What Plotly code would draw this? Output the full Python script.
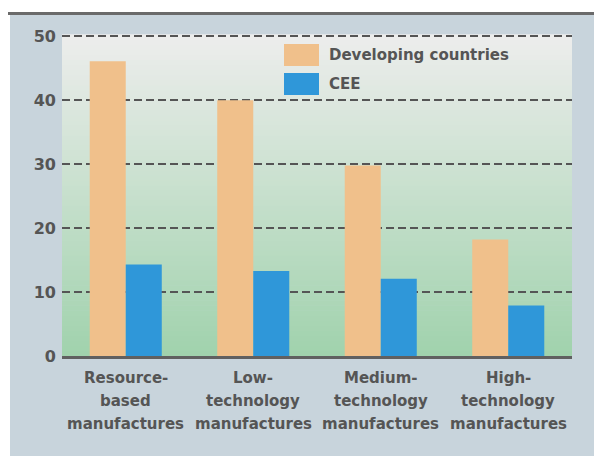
import plotly.graph_objects as go

# Share of exports by technology category (%)
categories = [
    "Resource-based manufactures",
    "Low-technology manufactures",
    "Medium-technology manufactures",
    "High-technology manufactures",
]
label_lines = [
    ["Resource-", "based", "manufactures"],
    ["Low-", "technology", "manufactures"],
    ["Medium-", "technology", "manufactures"],
    ["High-", "technology", "manufactures"],
]
series_names = ["Developing countries", "CEE"]
developing = [46.1, 40.0, 29.8, 18.2]
cee = [14.3, 13.3, 12.1, 7.9]
y_ticks = [0, 10, 20, 30, 40, 50]

colors = ["#f0c08b", "#2f97d9"]
text_color = "#555555"
font_family = "DejaVu Sans"

W, H = 594, 456
L, R, T, B = 62, 22, 35, 100
plot_w = W - L - R
plot_h = H - T - B


def px_x(px):
    return (px - L) / plot_w


def px_y(py):
    return (H - B - py) / plot_h


fig = go.Figure()
for name, vals, col in zip(series_names, [developing, cee], colors):
    fig.add_trace(go.Bar(x=categories, y=vals, name=name, marker=dict(color=col, line=dict(width=0)),
                         showlegend=False))

shapes = []
# outer panel and top rule
shapes.append(dict(type="rect", xref="paper", yref="paper", x0=px_x(10), x1=px_x(W + 10),
                   y0=px_y(H + 10), y1=px_y(13), fillcolor="#c8d4dc", line=dict(width=0), layer="below"))
shapes.append(dict(type="line", xref="paper", yref="paper", x0=px_x(8), x1=px_x(W + 10),
                   y0=px_y(13.5), y1=px_y(13.5), line=dict(color="#6a6a6a", width=3), layer="below"))

# vertical gradient behind the plot area
top_rgb = (237, 237, 237)
bot_rgb = (160, 210, 172)
n_bands = 64
for i in range(n_bands):
    f = (i + 0.5) / n_bands
    c = tuple(round(b + (t - b) * f) for t, b in zip(top_rgb, bot_rgb))
    shapes.append(dict(type="rect", xref="paper", yref="paper", x0=0, x1=1,
                       y0=i / n_bands, y1=(i + 1) / n_bands + 0.002,
                       fillcolor="rgb(%d,%d,%d)" % c, line=dict(width=0), layer="below"))

# legend swatches
sw_x0, sw_x1 = px_x(284), px_x(319)
for (y0, y1), col in zip([(44, 66), (73, 95)], colors):
    shapes.append(dict(type="rect", xref="paper", yref="paper", x0=sw_x0, x1=sw_x1,
                       y0=px_y(y1), y1=px_y(y0), fillcolor=col, line=dict(width=0), layer="above"))

annotations = []
for name, yc in zip(series_names, [55, 84]):
    annotations.append(dict(text=name, xref="paper", yref="paper", x=px_x(327), y=px_y(yc),
                            xanchor="left", yanchor="middle", showarrow=False,
                            font=dict(family=font_family, size=15, color=text_color, weight="bold")))

# three-line category labels under the axis
for cat, lines in zip(categories, label_lines):
    for k, line in enumerate(lines):
        annotations.append(dict(text=line, xref="x", yref="paper", x=cat, y=0,
                                yshift=-(22 + 23 * k), xanchor="center", yanchor="middle",
                                showarrow=False,
                                font=dict(family=font_family, size=15, color=text_color, weight="bold")))

fig.update_layout(
    width=W, height=H,
    margin=dict(l=L, r=R, t=T, b=B),
    paper_bgcolor="white",
    plot_bgcolor="rgba(0,0,0,0)",
    barmode="group",
    bargap=0.435,
    bargroupgap=0,
    shapes=shapes,
    annotations=annotations,
    font=dict(family=font_family, color=text_color),
    xaxis=dict(showticklabels=False, showgrid=False, showline=True, linecolor="#606060",
               linewidth=3, ticks="", zeroline=False, fixedrange=True),
    yaxis=dict(range=[0, 50.2], tickvals=y_ticks, showgrid=True, gridcolor="#555555",
               gridwidth=1.5, griddash="8px,4px", zeroline=False, showline=False, ticks="",
               ticklabelstandoff=5,
               tickfont=dict(family=font_family, size=16, color=text_color, weight="bold")),
)

fig.write_html("out.html")
